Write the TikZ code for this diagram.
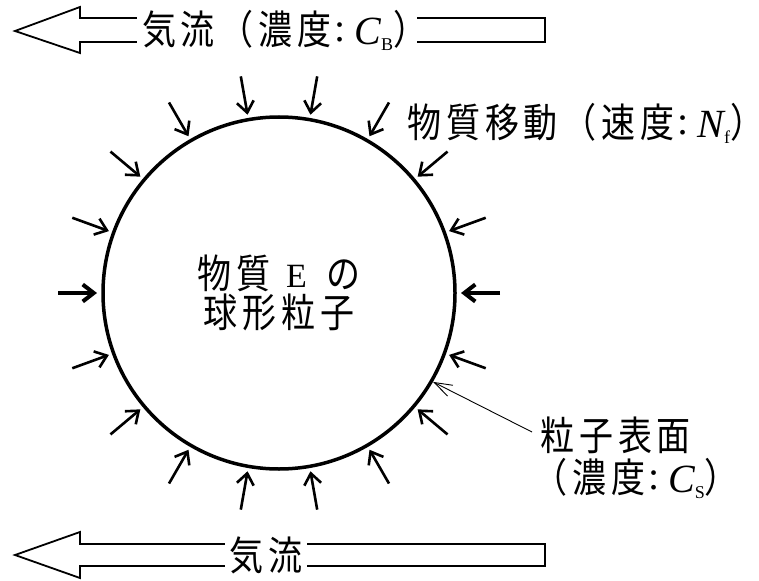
\documentclass[tikz,border=0pt]{standalone}
\usepackage{fontspec}
\setmainfont{Liberation Serif}
\newfontfamily\jp[FakeStretch=0.85,LetterSpace=12]{Noto Sans CJK JP}
\newcommand{\vsub}[2]{{\rmfamily\itshape #1}\raisebox{-0.15em}{\rmfamily\fontsize{18}{18}\selectfont #2}}
\newcommand{\cln}{\hspace{3pt}\raisebox{3pt}{\rmfamily :}\hspace{9pt}}
\newcommand{\eltE}{\raisebox{1pt}{\rmfamily\fontsize{34}{34}\selectfont E}}
\usetikzlibrary{arrows.meta,calc}

\begin{document}
\begin{tikzpicture}[
    x=1pt, y=-1pt,
    font=\fontsize{40}{37}\selectfont\jp,
    flux/.style={line width=2.6pt,-{Straight Barb[length=11pt,width=17pt]}},
    mainflux/.style={flux,line width=4pt},
    lead/.style={line width=0.9pt,-{Straight Barb[length=18pt,width=12pt]}},
    stream/.style={draw,line width=1.8pt,line join=miter},
    tag/.style={fill=white,inner xsep=5pt,inner ysep=0pt}
    ]
    \useasboundingbox (0,0) rectangle (759,580);
    \draw[stream] (545,18) -- (80,18) -- (80,7) -- (15,31) -- (80,53) -- (80,42) -- (545,42) -- cycle;
    \node[tag,anchor=west] (flowB) at (137,30) {気流（濃度\cln\vsub{C}{B}）\kern-15pt};
    \draw[stream] (545,544) -- (80,544) -- (80,532) -- (15,555) -- (80,578) -- (80,566) -- (545,566) -- cycle;
    \node[tag] (flowA) at (266,555) {気流};
    \node[draw,circle,line width=3.5pt,minimum size=352pt,inner sep=0pt,align=center] (ball) at (279,293)
      {物質\hspace{16pt}\eltE\hspace{20pt}の\\[2pt]球形粒子};
    \foreach \a in {20,40,...,160,200,220,...,340}
      \draw[flux] ($(ball.center)+(\a:220)$) -- ($(ball.center)+(\a:181)$);
    \foreach \a in {0,180}
      \draw[mainflux] ($(ball.center)+(\a:221)$) -- ($(ball.center)+(\a:182)$);
    \node[anchor=west] (rate) at (404,123) {物質移動（速度\cln\vsub{N}{f}）\kern-20pt};
    \node[anchor=west] (surf) at (537,435) {粒子表面};
    \node[anchor=west] (surfC) at (530,478) {（濃度\cln\vsub{C}{S}）\kern-20pt};
    \draw[lead] ($(surf.west)+(-5,-3)$) -- (ball.-30);
\end{tikzpicture}
\end{document}
